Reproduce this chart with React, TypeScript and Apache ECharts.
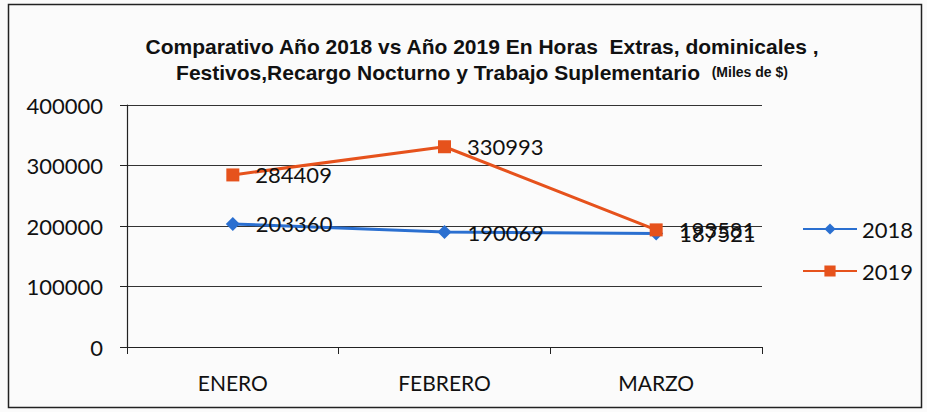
import React, { useEffect, useRef } from "react";
import * as echarts from "echarts";

const categories = ["ENERO", "FEBRERO", "MARZO"];
const values2018 = [203360, 190069, 187521];
const values2019 = [284409, 330993, 193581];
const seriesNames = ["2018", "2019"];
const yTicks = { min: 0, max: 400000, interval: 100000 };

export default function App() {
  const ref = useRef<HTMLDivElement>(null);
  useEffect(() => {
    if (!ref.current) return;
    const chart = echarts.init(ref.current, null, { renderer: "svg" });
    const labelStyle = {
      show: true,
      position: "right" as const,
      distance: 16,
      color: "#111",
      fontSize: 22,
      fontFamily: "Lato",
    };
    chart.setOption({
      animation: false,
      backgroundColor: "#fbfbfb",
      title: {
        text: "Comparativo Año 2018 vs Año 2019 En Horas  Extras, dominicales ,\nFestivos,Recargo Nocturno y Trabajo Suplementario  {s|(Miles de $)}",
        left: 477,
        top: 28,
        textAlign: "center",
        textStyle: {
          fontFamily: "Liberation Sans",
          fontWeight: "bold",
          fontSize: 21,
          color: "#111",
          lineHeight: 26,
          rich: {
            s: { fontSize: 14, fontWeight: "bold", fontFamily: "Liberation Sans", color: "#111" },
          },
        },
      },
      graphic: [
        {
          type: "rect",
          shape: { x: 8.5, y: 4.5, width: 913, height: 403 },
          style: { fill: "none", stroke: "#222", lineWidth: 1.5 },
        },
      ],
      legend: {
        orient: "vertical",
        left: 797,
        top: 213,
        itemWidth: 54,
        itemHeight: 14,
        itemGap: 20,
        textStyle: { fontFamily: "Lato", fontSize: 22, color: "#111" },
        data: seriesNames,
      },
      grid: { left: 127, right: 165, top: 105, bottom: 65 },
      xAxis: {
        type: "category",
        data: categories,
        boundaryGap: true,
        axisLine: { lineStyle: { color: "#222", width: 1.2 } },
        axisTick: { show: true, length: 7, lineStyle: { color: "#222" } },
        axisLabel: { color: "#111", fontFamily: "Lato", fontSize: 21, margin: 25 },
      },
      yAxis: {
        type: "value",
        min: yTicks.min,
        max: yTicks.max,
        interval: yTicks.interval,
        axisLine: { show: true, lineStyle: { color: "#222", width: 1.2 } },
        axisTick: { show: true, length: 7, lineStyle: { color: "#222" } },
        splitLine: { show: true, lineStyle: { color: "#333", width: 1 } },
        axisLabel: {
          color: "#111",
          fontFamily: "Lato",
          fontSize: 22,
          margin: 24,
          formatter: (v: number) => String(v),
        },
      },
      series: [
        {
          name: seriesNames[0],
          type: "line",
          data: values2018,
          symbol: "diamond",
          symbolSize: 14,
          color: "#2a6fd0",
          lineStyle: { width: 3, color: "#2a6fd0" },
          label: labelStyle,
        },
        {
          name: seriesNames[1],
          type: "line",
          data: values2019,
          symbol: "rect",
          symbolSize: 13,
          color: "#e6521c",
          lineStyle: { width: 3, color: "#e6521c" },
          label: labelStyle,
        },
      ],
    });
    return () => chart.dispose();
  }, []);
  return (
    <div
      ref={ref}
      style={{ position: "fixed", left: 0, top: 0, width: 927, height: 412 }}
    />
  );
}
